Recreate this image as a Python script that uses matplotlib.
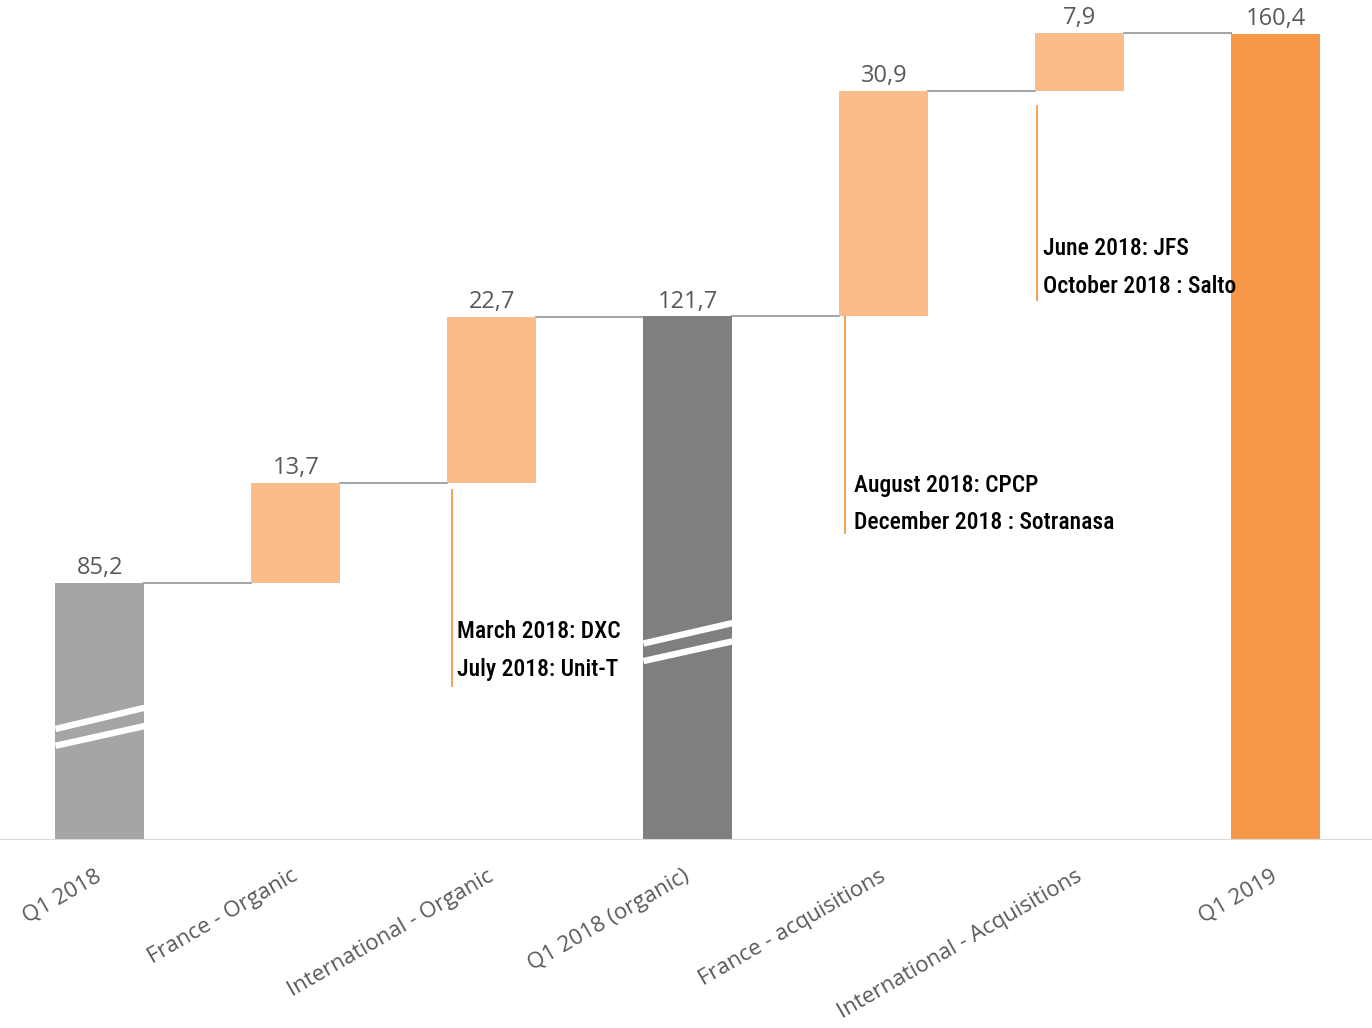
import matplotlib
matplotlib.use("Agg")
import matplotlib.pyplot as plt

# données du pont Q1 2018 -> Q1 2019
categories = ['Q1 2018', 'France - Organic', 'International - Organic', 'Q1 2018 (organic)',
              'France - acquisitions', 'International - Acquisitions', 'Q1 2019']
values = [85.2, 13.7, 22.7, 121.7, 30.9, 7.9, 160.4]
is_total = [True, False, False, True, False, False, True]
bar_colors = ['#a5a5a5', '#f9bc8a', '#f9bc8a', '#7f7f7f', '#f9bc8a', '#f9bc8a', '#f79646']
axis_break = 50  # axe coupé : on retire 50 aux totaux

annotations = [
    (2, ['March 2018: DXC', 'July 2018: Unit-T']),
    (4, ['August 2018: CPCP', 'December 2018 : Sotranasa']),
    (5, ['June 2018: JFS', 'October 2018 : Salto']),
]

fig = plt.figure(figsize=(13.72, 10.28), dpi=100)
ax = fig.add_axes([0, 188 / 1028, 1, 840 / 1028])

w = 0.454
x = list(range(len(categories)))
bottoms, heights = [], []
running = 0
for v, t in zip(values, is_total):
    if t:
        bottoms.append(0)
        heights.append(v - axis_break)
        running = v
    else:
        bottoms.append(running - axis_break)
        heights.append(v)
        running += v

ax.bar(x, heights, bottom=bottoms, width=w, color=bar_colors, zorder=2)

# lignes de liaison
for i in range(len(x) - 1):
    level = bottoms[i] + heights[i]
    ax.plot([x[i] + w / 2, x[i + 1] - w / 2], [level, level], color='#a6a6a6', lw=1.5, zorder=1)

# ligne de base
ax.axhline(0, color='#d9d9d9', lw=1.5, zorder=3)

# étiquettes de valeurs
for i, v in enumerate(values):
    top = bottoms[i] + heights[i]
    ax.annotate(f"{v:.1f}".replace('.', ','), (x[i], top), xytext=(0, 2), textcoords='offset points',
                ha='center', va='bottom', fontsize=17, color='#595959', family='Open Sans')

# marques de coupure sur les barres totales
breaks = {0: [(15.2, 18.1), (12.9, 15.6)], 3: [(26.9, 29.7), (24.5, 27.2)]}
for i, segs in breaks.items():
    for y0, y1 in segs:
        ax.plot([x[i] - w / 2, x[i] + w / 2], [y0, y1], color='white', lw=4.6,
                solid_capstyle='butt', zorder=4)

# annotations des acquisitions
ann_pos = {2: (0.025, 47.9, 21.1, [28.5, 23.3], 0.05),
           4: (0.027, 71.7, 42.0, [48.6, 43.4], 0.073),
           5: (0.01, 100.5, 73.9, [81.0, 75.8], 0.036)}
for i, lines in annotations:
    dx, ytop, ybot, ys, tdx = ann_pos[i]
    lx = x[i] - w / 2 + dx
    ax.plot([lx, lx], [ytop, ybot], color='#f79646', lw=1.3, zorder=2)
    for txt, yy in zip(lines, ys):
        ax.text(x[i] - w / 2 + tdx, yy, txt, ha='left', va='center', fontsize=17,
                family=['Roboto Condensed', 'Open Sans Condensed', 'DejaVu Sans'],
                fontstretch='condensed', fontweight='medium', color='black', zorder=5)

ax.set_xlim(-0.51, 6.49)
ax.set_ylim(0, 115)
for s in ax.spines.values():
    s.set_visible(False)
ax.set_yticks([])
ax.set_xticks(x)
ax.set_xticklabels(categories, rotation=30, ha='right', va='center', rotation_mode='anchor',
                   fontsize=16, color='#595959', family='Open Sans')
ax.tick_params(axis='x', length=0, pad=25)

fig.savefig('out.png', dpi=100)
